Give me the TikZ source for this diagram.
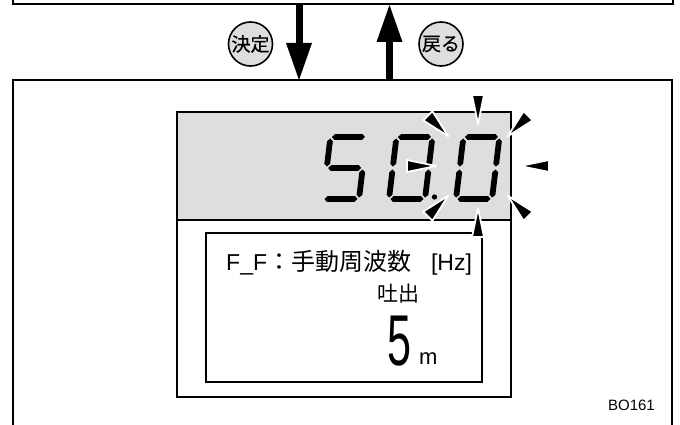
\documentclass[tikz,border=0pt]{standalone}
\usepackage{fontspec}
\setmainfont{Liberation Sans}
\newfontfamily\cjk{Noto Sans CJK JP}
\newfontfamily\cjkkey[FakeBold=0.6]{Noto Sans CJK JP}
\usetikzlibrary{arrows.meta}
\definecolor{lcdgray}{gray}{0.87}
% one bar of a seven segment digit
\newcommand{\hseg}[3]{\fill (#1+1.5,#3) -- (#1+4.2,#3+2.9) -- (#2-4.2,#3+2.9) -- (#2-1.5,#3) -- (#2-4.2,#3-2.9) -- (#1+4.2,#3-2.9) -- cycle;}
\newcommand{\vseg}[3]{\fill (#1,#2+1.5) -- (#1+2.9,#2+4.2) -- (#1+2.9,#3-4.2) -- (#1,#3-1.5) -- (#1-2.9,#3-4.2) -- (#1-2.9,#2+4.2) -- cycle;}

\begin{document}
\begin{tikzpicture}[x=1pt,y=-1pt,
  frame/.style={line width=1.3pt},
  bigarrow/.style={line width=7pt,-{Triangle[length=37pt,width=26pt,line width=0pt]}},
  keycircle/.style={circle,draw,line width=1.6pt,fill=lcdgray,minimum size=44pt,inner sep=0pt,font=\cjkkey\fontsize{19}{19}\selectfont},
  ray/.style={fill=black,draw=white,line width=1.8pt,line join=round}]
\useasboundingbox (0,0) rectangle (680,425);
% screens above and below
\draw[frame] (13,-5)--(13,4)--(673,4)--(673,-5);
\draw[frame] (13,430)--(13,80)--(672,80)--(672,430);
\coordinate (dntop) at (299,4);
\coordinate (dnbot) at (299,80);
\coordinate (uptop) at (389.5,5);
\coordinate (upbot) at (389.5,80);
\draw[bigarrow] (dntop)--(dnbot);
\draw[bigarrow] (upbot)--(uptop);
\node[keycircle] (kettei) at (250.5,44) {決定};
\node[keycircle] (modoru) at (441,44) {戻る};
% operation panel
\draw[line width=2pt, fill=lcdgray] (177,112)--(511,112)--(511,220)--(177,220)--cycle;
\draw[line width=2pt] (177,220)--(177,397)--(511,397)--(511,220);
\draw[line width=1.4pt] (206,233)--(482,233)--(482,382)--(206,382)--cycle;
% digits 50.0
\begin{scope}[shift={(323,199)},x=1pt,y=1pt,xslant=0.12]
\hseg{0}{36}{62} \vseg{0}{31}{62} \hseg{0}{36}{31} \vseg{36}{0}{31} \hseg{0}{36}{0}
\end{scope}
\begin{scope}[shift={(389,199)},x=1pt,y=1pt,xslant=0.12]
\hseg{0}{36}{62} \vseg{36}{31}{62} \vseg{36}{0}{31} \hseg{0}{36}{0} \vseg{0}{0}{31} \vseg{0}{31}{62}
\end{scope}
\begin{scope}[shift={(456,199)},x=1pt,y=1pt,xslant=0.12]
\hseg{0}{36}{62} \vseg{36}{31}{62} \vseg{36}{0}{31} \hseg{0}{36}{0} \vseg{0}{0}{31} \vseg{0}{31}{62}
\end{scope}
\fill (434.5,197) circle (2.7);
% blinking marks
\begin{scope}[shift={(478,166)}]
\draw[ray,rotate=0] (42,0)--(71,6)--(71,-6)--cycle;
\draw[ray,rotate=45] (42,0)--(71,6.5)--(71,-6.5)--cycle;
\draw[ray,rotate=90] (42,0)--(71,6)--(71,-6)--cycle;
\draw[ray,rotate=135] (42,0)--(71,6.5)--(71,-6.5)--cycle;
\draw[ray,rotate=180] (42,0)--(71,6)--(71,-6)--cycle;
\draw[ray,rotate=225] (42,0)--(71,6.5)--(71,-6.5)--cycle;
\draw[ray,rotate=270] (42,0)--(71,6)--(71,-6)--cycle;
\draw[ray,rotate=315] (42,0)--(71,6.5)--(71,-6.5)--cycle;
\end{scope}
% texts
\node[anchor=base west,inner sep=0pt,font=\fontsize{23}{23}\selectfont] (title) at (226,270) {F\_F{\cjk\fontsize{24}{24}\selectfont ：手動周波数}\hspace{20pt}[Hz]};
\node[inner sep=0pt,font=\cjk\fontsize{21}{21}\selectfont] (mode) at (398,294) {吐出};
\node[anchor=base,inner sep=0pt,xscale=0.6,font=\fontsize{72}{72}\selectfont] (value) at (400,365) {5};
\node[anchor=base west,inner sep=0pt,font=\fontsize{22}{22}\selectfont] (unit) at (419,364) {m};
\node[anchor=base east,inner sep=0pt,font=\fontsize{15}{15}\selectfont] (code) at (655,410) {BO161};
\end{tikzpicture}
\end{document}
